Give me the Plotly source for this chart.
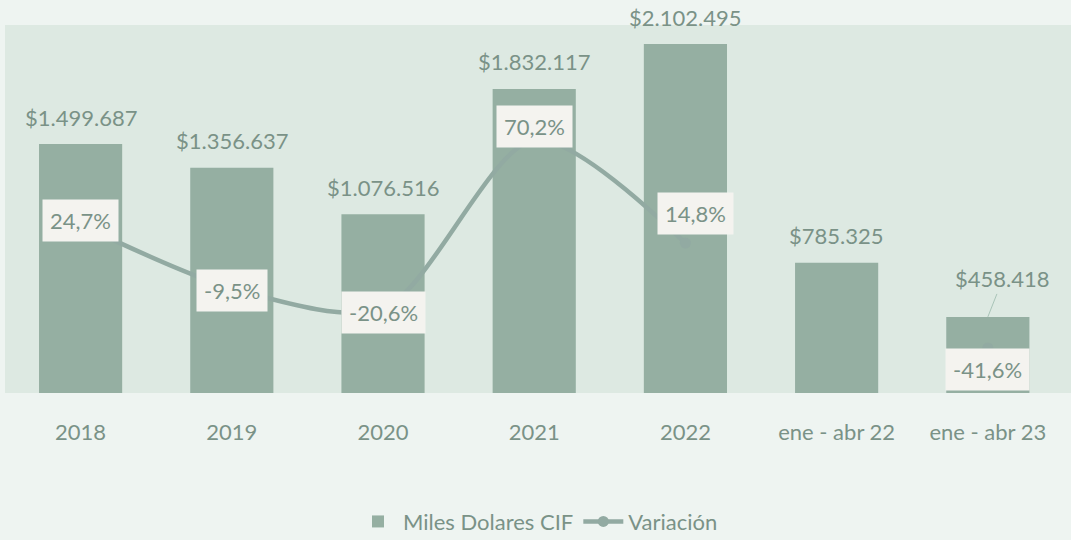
import plotly.graph_objects as go

categories = ["2018", "2019", "2020", "2021", "2022", "ene - abr 22", "ene - abr 23"]
miles_cif = [1499687, 1356637, 1076516, 1832117, 2102495, 785325, 458418]
variacion = [24.7, -9.5, -20.6, 70.2, 14.8, None, -41.6]

bar_labels = ["$1.499.687", "$1.356.637", "$1.076.516", "$1.832.117", "$2.102.495", "$785.325", "$458.418"]
var_labels = ["24,7%", "-9,5%", "-20,6%", "70,2%", "14,8%", None, "-41,6%"]

FONT = "Lato"
FS = 22
TXT = "#7A9287"
BAR = "#95AFA2"
LINE = "#92AAA2"

# label offsets in pixels (style only)
var_yshift = [4, -2, -4, 13, 30, 0, -22]
var_xshift = [0, 0, 0, 0, 10, 0, 0]

fig = go.Figure()
fig.add_trace(go.Bar(
    x=categories, y=miles_cif, name="Miles Dolares CIF",
    marker=dict(color=BAR, line=dict(width=0)), width=0.55,
    hoverinfo="skip",
))
fig.add_trace(go.Scatter(
    x=categories, y=variacion, name="Variación", yaxis="y2",
    mode="lines+markers", line=dict(color=LINE, width=4.5, shape="spline", smoothing=0.8),
    marker=dict(color=LINE, size=11), connectgaps=False, hoverinfo="skip",
))

ann = []
for i, (v, t) in enumerate(zip(miles_cif, bar_labels)):
    if i == 6:
        ann.append(dict(x=i, y=v, xref="x", yref="y", text=t, showarrow=True,
                        arrowhead=0, arrowwidth=1, arrowcolor="#A9C4B8",
                        ax=15, ay=-38, font=dict(family=FONT, size=FS, color=TXT)))
    else:
        ann.append(dict(x=i, y=v, xref="x", yref="y", text=t, showarrow=False,
                        yshift=27, font=dict(family=FONT, size=FS, color=TXT)))
for i, (v, t) in enumerate(zip(variacion, var_labels)):
    if v is None:
        continue
    ann.append(dict(x=i, y=v, xref="x", yref="y2", text=t, showarrow=False,
                    yshift=var_yshift[i], xshift=var_xshift[i],
                    bgcolor="#F4F3EF", borderpad=7,
                    font=dict(family=FONT, size=FS, color=TXT)))

fig.update_layout(
    width=1071, height=540,
    margin=dict(l=5, r=0, t=25, b=147, autoexpand=False),
    paper_bgcolor="#EEF4F1", plot_bgcolor="#DDE9E2",
    font=dict(family=FONT, size=FS, color=TXT),
    xaxis=dict(type="category", range=[-0.5, 6.55], showgrid=False, zeroline=False,
               showline=False, ticks="", ticklabelstandoff=24,
               tickfont=dict(size=FS, color=TXT)),
    yaxis=dict(range=[0, 2217000], showgrid=False, zeroline=False, showticklabels=False),
    yaxis2=dict(range=[-65.8, 132], overlaying="y", side="right", showgrid=False,
                zeroline=False, showticklabels=False),
    showlegend=True,
    legend=dict(orientation="h", x=0.5, xanchor="center", yref="container",
                y=0.034, yanchor="middle",
                bgcolor="rgba(0,0,0,0)", font=dict(size=FS, color=TXT),
                itemwidth=40),
    annotations=ann,
)

fig.write_html("out.html", config={"displayModeBar": False},
               post_script="document.body.style.margin='0';")
